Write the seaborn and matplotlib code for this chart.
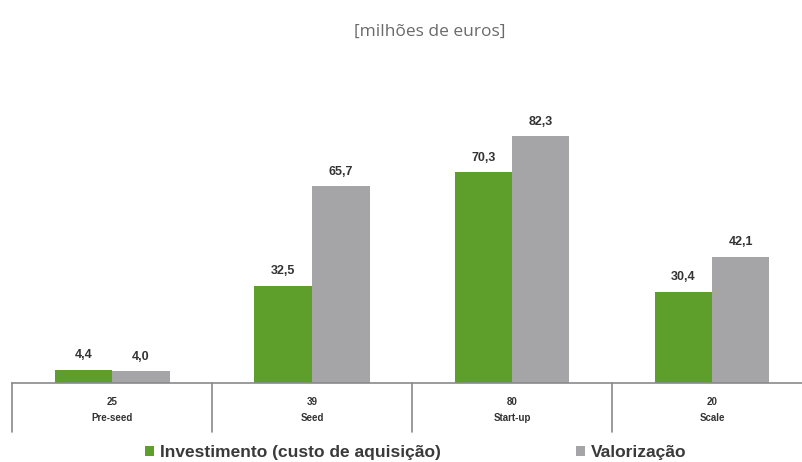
# plot.py
# Investimento vs Valorização por fase (milhões de euros)

import pandas as pd
import matplotlib
matplotlib.use("Agg")
import matplotlib.pyplot as plt
import matplotlib.transforms as mtransforms
import seaborn as sns

# === Data ===
stages = ["Pre-seed", "Seed", "Start-up", "Scale"]
counts = ["25", "39", "80", "20"]
investimento = [4.4, 32.5, 70.3, 30.4]
valorizacao = [4.0, 65.7, 82.3, 42.1]
series_names = ["Investimento (custo de aquisição)", "Valorização"]

green = "#5e9f2c"
gray = "#a5a5a7"

df = pd.DataFrame({"stage": stages, series_names[0]: investimento, series_names[1]: valorizacao})
long_df = df.melt(id_vars="stage", var_name="series", value_name="value")

# === Figure ===
sns.set_style("white")
plt.rcParams["font.family"] = ["Liberation Sans", "DejaVu Sans"]

fig = plt.figure(figsize=(8.02, 4.62), dpi=100)
W, H = 802, 462
# axes in pixel coords: left 12, right 812, baseline 383, top 100
ax = fig.add_axes([12 / W, (H - 383) / H, 800 / W, (383 - 100) / H])

sns.barplot(data=long_df, x="stage", y="value", hue="series", order=stages,
            hue_order=series_names, palette=[green, gray], width=0.575,
            gap=0, ax=ax, legend=True, saturation=1, linewidth=0)

ax.set_xlim(-0.5, 3.5)
ax.set_ylim(0, 283 / 3.0)
ax.set_xlabel("")
ax.set_ylabel("")
ax.set_xticks([])
ax.set_yticks([])
for s in ["top", "right", "left"]:
    ax.spines[s].set_visible(False)
ax.spines["bottom"].set_color("#8a8a8a")
ax.spines["bottom"].set_linewidth(1.2)

# value labels
for cont, vals in zip(ax.containers, [investimento, valorizacao]):
    ax.bar_label(cont, labels=[f"{v:.1f}".replace(".", ",") for v in vals],
                 padding=6, fontsize=9, fontweight="bold", color="#333333")

# category table under the axis
trans = mtransforms.blended_transform_factory(ax.transData, ax.transAxes)
px = 1 / (383 - 100)
for xb in [-0.5, 0.5, 1.5, 2.5, 3.5]:
    ax.plot([xb, xb], [0, -49 * px], color="#8a8a8a", lw=1.2,
            transform=trans, clip_on=False)
for i, (n, st) in enumerate(zip(counts, stages)):
    ax.text(i, -19 * px, n, transform=trans, ha="center", va="center",
            fontsize=7, fontweight="bold", color="#333333")
    ax.text(i, -35 * px, st, transform=trans, ha="center", va="center",
            fontsize=7, fontweight="bold", color="#333333")

# title
fig.text(430 / W, 1 - 32 / H, "[milhões de euros]", ha="center", va="center",
         fontsize=12.5, color="#6a6a6a", family=["Open Sans", "DejaVu Sans"])

# legend
handles, labels = ax.get_legend_handles_labels()
ax.get_legend().remove()
leg = fig.legend(handles, labels, loc="center", bbox_to_anchor=(416 / W, 1 - 453 / H),
                 ncol=2, frameon=False, handlelength=0.5, handleheight=0.5,
                 handletextpad=0.35, columnspacing=7.8,
                 prop={"size": 12.5, "weight": "bold"})
for t in leg.get_texts():
    t.set_color("#3a3a3a")

fig.savefig("out.png", dpi=100)
